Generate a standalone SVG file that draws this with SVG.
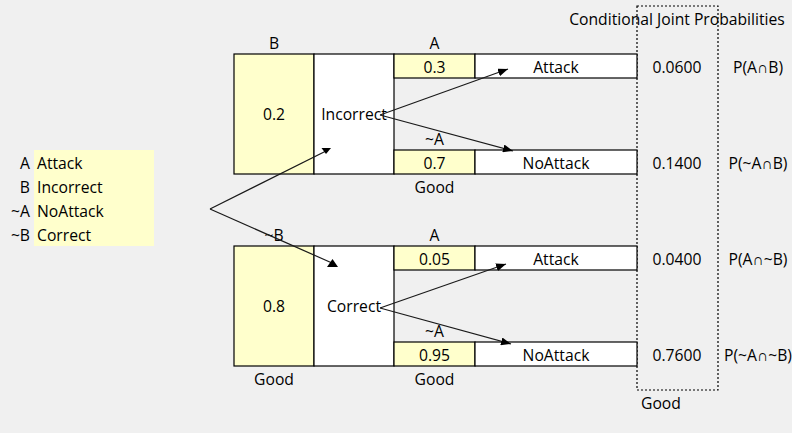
<svg xmlns="http://www.w3.org/2000/svg" width="792" height="433" viewBox="0 0 792 433">
<defs>
<style>
text{font-family:"Open Sans","Noto Sans","Liberation Sans",sans-serif;font-size:15.7px;fill:#000;}
.c{text-anchor:middle}
.r{text-anchor:end}
.y{fill:#ffffcc;stroke:#000;stroke-width:1.2}
.w{fill:#fff;stroke:#000;stroke-width:1.2}
.ln{stroke:#1a1a1a;stroke-width:1.2;fill:none}
.hd{fill:#000}
</style>
<marker id="ah" viewBox="0 0 10 8" refX="10" refY="4" markerWidth="10" markerHeight="8" markerUnits="userSpaceOnUse" orient="auto">
<path d="M0,0 L10,4 L0,8 Z" fill="#000"/>
</marker>
</defs>
<rect x="0" y="0" width="792" height="433" fill="#f0f0f0"/>

<g id="legend">
<rect x="34" y="150" width="120" height="96" fill="#ffffcc"/>
<text class="r" x="30" y="168.5">A</text><text x="37" y="168.5">Attack</text>
<text class="r" x="30" y="192.5">B</text><text x="37" y="192.5">Incorrect</text>
<text class="r" x="30" y="216.5">~A</text><text x="37" y="216.5">NoAttack</text>
<text class="r" x="30" y="240.5">~B</text><text x="37" y="240.5">Correct</text>
</g>

<g id="joint-column">
<rect x="637" y="6" width="81" height="384" fill="none" stroke="#000" stroke-width="1.2" stroke-dasharray="2,2"/>
<text class="c" x="677" y="24.5">Conditional Joint Probabilities</text>
<text x="641" y="408.5">Good</text>
</g>

<g id="node-B">
<text class="c" x="274" y="49">B</text>
<rect class="y" x="234" y="54" width="80" height="120"/>
<text class="c" x="274" y="120">0.2</text>
</g>
<g id="node-Incorrect">
<rect class="w" x="314" y="54" width="80" height="120"/>
<text class="c" x="354" y="120">Incorrect</text>
</g>
<g id="node-B-A">
<text class="c" x="434.5" y="49">A</text>
<rect class="y" x="394" y="54" width="81" height="24"/>
<text class="c" x="434.5" y="72.5">0.3</text>
<rect class="w" x="475" y="54" width="162" height="24"/>
<text class="c" x="556" y="72.5">Attack</text>
<text class="c" x="677" y="72.5">0.0600</text>
<text class="c" x="758" y="72.5">P(A∩B)</text>
</g>
<g id="node-B-notA">
<text class="c" x="434.5" y="144.5">~A</text>
<rect class="y" x="394" y="150" width="81" height="24"/>
<text class="c" x="434.5" y="168.5">0.7</text>
<rect class="w" x="475" y="150" width="162" height="24"/>
<text class="c" x="556" y="168.5">NoAttack</text>
<text class="c" x="434.5" y="192.5">Good</text>
<text class="c" x="677" y="168.5">0.1400</text>
<text class="c" x="758" y="168.5">P(~A∩B)</text>
</g>

<g id="node-notB">
<text class="c" x="274" y="240.5">~B</text>
<rect class="y" x="234" y="246" width="80" height="120"/>
<text class="c" x="274" y="312">0.8</text>
<text class="c" x="274" y="384.5">Good</text>
</g>
<g id="node-Correct">
<rect class="w" x="314" y="246" width="80" height="120"/>
<text class="c" x="354" y="312">Correct</text>
</g>
<g id="node-notB-A">
<text class="c" x="434.5" y="240.5">A</text>
<rect class="y" x="394" y="246" width="81" height="24"/>
<text class="c" x="434.5" y="264.5">0.05</text>
<rect class="w" x="475" y="246" width="162" height="24"/>
<text class="c" x="556" y="264.5">Attack</text>
<text class="c" x="677" y="264.5">0.0400</text>
<text class="c" x="758" y="264.5">P(A∩~B)</text>
</g>
<g id="node-notB-notA">
<text class="c" x="434.5" y="336.5">~A</text>
<rect class="y" x="394" y="342" width="81" height="24"/>
<text class="c" x="434.5" y="360.5">0.95</text>
<rect class="w" x="475" y="342" width="162" height="24"/>
<text class="c" x="556" y="360.5">NoAttack</text>
<text class="c" x="434.5" y="384.5">Good</text>
<text class="c" x="677" y="360.5">0.7600</text>
<text class="c" x="758" y="360.5">P(~A∩~B)</text>
</g>

<g id="connectors">
<line class="ln" x1="210" y1="209" x2="326" y2="151"/>
<polygon class="hd" points="321.5,148 331,148 326,154"/>
<line class="ln" x1="210" y1="209" x2="332" y2="263"/>
<polygon class="hd" points="327,267 338,267 332.5,259"/>
<line class="ln" x1="380" y1="115" x2="508" y2="69" marker-end="url(#ah)"/>
<line class="ln" x1="380" y1="115" x2="513" y2="151" marker-end="url(#ah)"/>
<line class="ln" x1="380" y1="308" x2="506" y2="264" marker-end="url(#ah)"/>
<line class="ln" x1="380" y1="308" x2="511" y2="344" marker-end="url(#ah)"/>
</g>
</svg>
